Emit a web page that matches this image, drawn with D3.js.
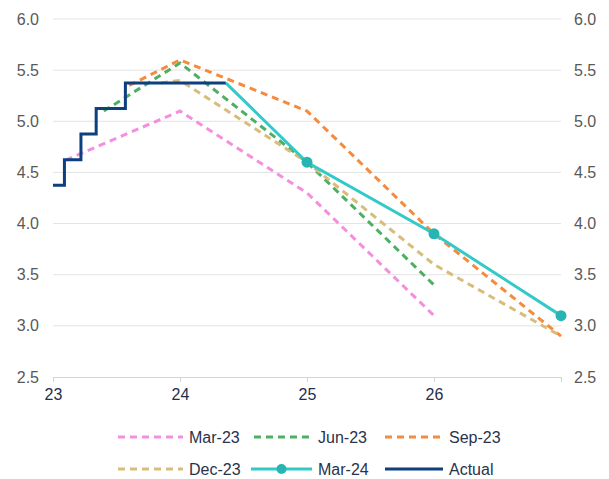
<!DOCTYPE html>
<html>
<head>
<meta charset="utf-8">
<script src="https://cdn.jsdelivr.net/npm/d3@7"></script>
<style>
  html, body { margin: 0; padding: 0; background: #fff; }
  svg { display: block; font-family: "Liberation Sans", Arial, sans-serif; }
</style>
</head>
<body>
<svg id="chart" width="609" height="479"></svg>
<script>
// Policy rate path: forecasts made at each date, plus the actual rate
const yTicks = [2.5, 3.0, 3.5, 4.0, 4.5, 5.0, 5.5, 6.0];
const xTicks = [23, 24, 25, 26, 27];
const xTickLabels = ["23", "24", "25", "26", ""];

const mar23X = [23.1, 24, 25, 26];
const mar23Y = [4.62, 5.1, 4.3, 3.1];

const jun23X = [23.4, 24, 25, 26];
const jun23Y = [5.1, 5.57, 4.6, 3.4];

const sep23X = [23.6, 24, 25, 26, 27];
const sep23Y = [5.35, 5.6, 5.1, 3.9, 2.9];

const dec23X = [23.85, 24, 25, 26, 27];
const dec23Y = [5.375, 5.4, 4.6, 3.6, 2.9];

const mar24X = [24.36, 25, 26, 27];
const mar24Y = [5.375, 4.6, 3.9, 3.1];
const mar24Markers = [false, true, true, true];

const actualX = [23.0, 23.09, 23.22, 23.34, 23.57, 24.36];
const actualY = [4.375, 4.625, 4.875, 5.125, 5.375, 5.375];

const series = [
  { name: "Mar-23", xs: mar23X, ys: mar23Y, color: "#F48FDF", dash: "7,5" },
  { name: "Jun-23", xs: jun23X, ys: jun23Y, color: "#4DAF62", dash: "7,5" },
  { name: "Sep-23", xs: sep23X, ys: sep23Y, color: "#F68A3D", dash: "7,5" },
  { name: "Dec-23", xs: dec23X, ys: dec23Y, color: "#D8BD7A", dash: "7,5" },
  { name: "Mar-24", xs: mar24X, ys: mar24Y, color: "#33C9C9", dash: null, markers: mar24Markers, markerColor: "#26B5B3" },
  { name: "Actual", xs: actualX, ys: actualY, color: "#0E3F7E", dash: null, step: true }
];

const svg = d3.select("#chart");
const x = d3.scaleLinear().domain([23, 27]).range([53, 561]);
const y = d3.scaleLinear().domain([2.5, 6.0]).range([377, 19]);

// Horizontal gridlines
svg.append("g")
  .selectAll("line")
  .data(yTicks.filter(d => d > 2.5))
  .join("line")
  .attr("x1", x(23)).attr("x2", x(27))
  .attr("y1", d => y(d)).attr("y2", d => y(d))
  .attr("stroke", "#E3E3E3").attr("stroke-width", 1);

// Bottom axis
const xAxis = d3.axisBottom(x)
  .tickValues(xTicks)
  .tickSize(5)
  .tickPadding(7)
  .tickFormat((d, i) => xTickLabels[i]);
const gx = svg.append("g").attr("transform", `translate(0,${y(2.5)})`).call(xAxis);
gx.select(".domain").attr("stroke", "#D4D4D4");
gx.selectAll(".tick line").attr("stroke", "#D4D4D4");
gx.selectAll(".tick text")
  .attr("fill", "#1F2E4C")
  .style("font-size", "16px")
  .style("font-family", "'Liberation Sans', Arial, sans-serif");

// Left and right value axes
const fmt = d3.format(".1f");
const yLeft = d3.axisLeft(y).tickValues(yTicks).tickSize(0).tickPadding(14).tickFormat(fmt);
const gl = svg.append("g").attr("transform", `translate(${x(23)},0)`).call(yLeft);
gl.select(".domain").remove();
gl.selectAll(".tick text").attr("fill", "#595959").style("font-size", "16px")
  .style("font-family", "'Liberation Sans', Arial, sans-serif");

const yRight = d3.axisRight(y).tickValues(yTicks).tickSize(0).tickPadding(13).tickFormat(fmt);
const gr = svg.append("g").attr("transform", `translate(${x(27)},0)`).call(yRight);
gr.select(".domain").remove();
gr.selectAll(".tick text").attr("fill", "#595959").style("font-size", "16px")
  .style("font-family", "'Liberation Sans', Arial, sans-serif");

// Lines
const plot = svg.append("g");
series.forEach(s => {
  const pts = s.xs.map((v, i) => [v, s.ys[i]]);
  const line = d3.line()
    .x(d => x(d[0])).y(d => y(d[1]))
    .curve(s.step ? d3.curveStepAfter : d3.curveLinear);
  plot.append("path")
    .datum(pts)
    .attr("d", line)
    .attr("fill", "none")
    .attr("stroke", s.color)
    .attr("stroke-width", 3)
    .attr("stroke-dasharray", s.dash)
    .attr("stroke-linejoin", "miter");
  if (s.markers) {
    plot.selectAll(null)
      .data(pts.filter((d, i) => s.markers[i]))
      .join("circle")
      .attr("cx", d => x(d[0])).attr("cy", d => y(d[1]))
      .attr("r", 5.5)
      .attr("fill", s.markerColor);
  }
});

// Legend, two rows of three
const legendCols = [118, 251, 382];
const legendRows = [437, 469];
const legend = svg.append("g");
series.forEach((s, i) => {
  const col = i % 3, row = Math.floor(i / 3);
  const lx = legendCols[col], ly = legendRows[row];
  const sampleStart = col === 0 ? lx : lx + (col === 1 && !s.dash ? 0 : 3);
  const sampleEnd = col === 0 ? 183 : (col === 1 ? 312 : 443);
  const g = legend.append("g");
  g.append("line")
    .attr("x1", sampleStart).attr("x2", sampleEnd)
    .attr("y1", ly).attr("y2", ly)
    .attr("stroke", s.color).attr("stroke-width", 3)
    .attr("stroke-dasharray", s.dash);
  if (s.markers) {
    g.append("circle")
      .attr("cx", (sampleStart + sampleEnd) / 2).attr("cy", ly)
      .attr("r", 5).attr("fill", s.markerColor);
  }
  g.append("text")
    .attr("x", sampleEnd + 6).attr("y", ly)
    .attr("dy", "0.35em")
    .attr("fill", "#28334B")
    .style("font-size", "16px")
    .text(s.name);
});
</script>
</body>
</html>
